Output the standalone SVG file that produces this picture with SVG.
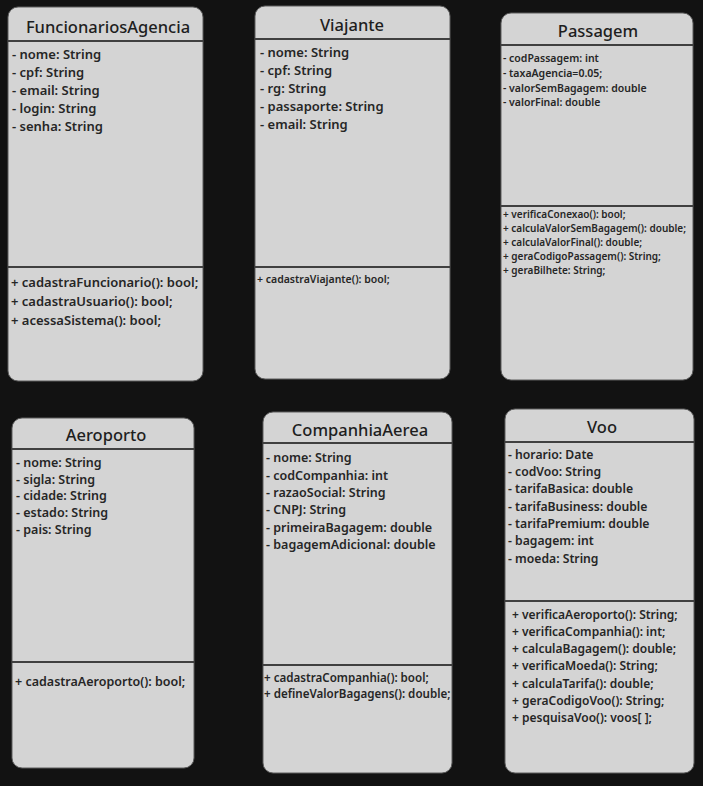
<svg xmlns="http://www.w3.org/2000/svg" width="703" height="786" viewBox="0 0 703 786">
<style>
.box{fill:#d4d4d4;stroke:#5c5c5c;stroke-width:1}
.sep{stroke:#404040;stroke-width:2}
.title{font-family:"Noto Sans",Lato,sans-serif;font-size:16.5px;fill:#1e1e1e;text-anchor:middle;font-weight:500}
.t{font-family:"Noto Sans",Lato,sans-serif;font-weight:600;fill:#262626}
.s13{font-size:13px}
.s12{font-size:12.5px}
.v12{font-size:12.2px}
.v11{font-size:12px}
.s10{font-size:10.5px}
.p10{font-size:10px}
.s11{font-size:10.5px}
.c11{font-size:11.6px}
</style>
<rect width="703" height="786" fill="#121212"/>
<g id="FuncionariosAgencia">
<rect class="box" x="8" y="7" width="195" height="374" rx="10"/>
<line class="sep" x1="8" y1="41" x2="203" y2="41"/>
<line class="sep" x1="8" y1="267" x2="203" y2="267"/>
<text class="title" x="108" y="33">FuncionariosAgencia</text>
<text class="t s13" x="12" y="59">- nome: String</text>
<text class="t s13" x="12" y="77">- cpf: String</text>
<text class="t s13" x="12" y="95">- email: String</text>
<text class="t s13" x="12" y="113">- login: String</text>
<text class="t s13" x="12" y="131">- senha: String</text>
<text class="t s13" x="11" y="287">+ cadastraFuncionario(): bool;</text>
<text class="t s13" x="11" y="306">+ cadastraUsuario(): bool;</text>
<text class="t s13" x="11" y="325">+ acessaSistema(): bool;</text>
</g>
<g id="Viajante">
<rect class="box" x="255" y="6" width="195" height="373" rx="10"/>
<line class="sep" x1="255" y1="39" x2="450" y2="39"/>
<line class="sep" x1="255" y1="267" x2="450" y2="267"/>
<text class="title" x="352" y="31">Viajante</text>
<text class="t s13" x="260" y="57">- nome: String</text>
<text class="t s13" x="260" y="75">- cpf: String</text>
<text class="t s13" x="260" y="93">- rg: String</text>
<text class="t s13" x="260" y="111">- passaporte: String</text>
<text class="t s13" x="260" y="129">- email: String</text>
<text class="t s11" x="257" y="283">+ cadastraViajante(): bool;</text>
</g>
<g id="Passagem">
<rect class="box" x="501" y="13" width="192" height="367" rx="10"/>
<line class="sep" x1="501" y1="45" x2="693" y2="45"/>
<line class="sep" x1="501" y1="206" x2="693" y2="206"/>
<text class="title" x="598" y="37">Passagem</text>
<text class="t s10" x="503" y="62">- codPassagem: int</text>
<text class="t s10" x="503" y="77">- taxaAgencia=0.05;</text>
<text class="t s10" x="503" y="92">- valorSemBagagem: double</text>
<text class="t s10" x="503" y="106">- valorFinal: double</text>
<text class="t p10" x="503" y="218">+ verificaConexao(): bool;</text>
<text class="t p10" x="503" y="232">+ calculaValorSemBagagem(): double;</text>
<text class="t p10" x="503" y="246">+ calculaValorFinal(): double;</text>
<text class="t p10" x="503" y="260">+ geraCodigoPassagem(): String;</text>
<text class="t p10" x="503" y="274">+ geraBilhete: String;</text>
</g>
<g id="Aeroporto">
<rect class="box" x="12" y="418" width="182" height="350" rx="10"/>
<line class="sep" x1="12" y1="449" x2="194" y2="449"/>
<line class="sep" x1="12" y1="662" x2="194" y2="662"/>
<text class="title" x="106" y="441">Aeroporto</text>
<text class="t s12" x="16" y="467">- nome: String</text>
<text class="t s12" x="16" y="484">- sigla: String</text>
<text class="t s12" x="16" y="500">- cidade: String</text>
<text class="t s12" x="16" y="517">- estado: String</text>
<text class="t s12" x="16" y="534">- pais: String</text>
<text class="t s12" x="15" y="686">+ cadastraAeroporto(): bool;</text>
</g>
<g id="CompanhiaAerea">
<rect class="box" x="263" y="412" width="189" height="361" rx="10"/>
<line class="sep" x1="263" y1="443" x2="452" y2="443"/>
<line class="sep" x1="263" y1="665" x2="452" y2="665"/>
<text class="title" x="360" y="436">CompanhiaAerea</text>
<text class="t s12" x="266" y="462">- nome: String</text>
<text class="t s12" x="266" y="480">- codCompanhia: int</text>
<text class="t s12" x="266" y="497">- razaoSocial: String</text>
<text class="t s12" x="266" y="514">- CNPJ: String</text>
<text class="t s12" x="266" y="532">- primeiraBagagem: double</text>
<text class="t s12" x="266" y="549">- bagagemAdicional: double</text>
<text class="t c11" x="264" y="682">+ cadastraCompanhia(): bool;</text>
<text class="t c11" x="264" y="698">+ defineValorBagagens(): double;</text>
</g>
<g id="Voo">
<rect class="box" x="505" y="409" width="189" height="364" rx="10"/>
<line class="sep" x1="505" y1="442" x2="694" y2="442"/>
<line class="sep" x1="505" y1="601" x2="694" y2="601"/>
<text class="title" x="602" y="433">Voo</text>
<text class="t v12" x="508" y="459">- horario: Date</text>
<text class="t v12" x="508" y="476">- codVoo: String</text>
<text class="t v12" x="508" y="493">- tarifaBasica: double</text>
<text class="t v12" x="508" y="511">- tarifaBusiness: double</text>
<text class="t v12" x="508" y="528">- tarifaPremium: double</text>
<text class="t v12" x="508" y="545">- bagagem: int</text>
<text class="t v12" x="508" y="563">- moeda: String</text>
<text class="t v11" x="512" y="619">+ verificaAeroporto(): String;</text>
<text class="t v11" x="512" y="636">+ verificaCompanhia(): int;</text>
<text class="t v11" x="512" y="653">+ calculaBagagem(): double;</text>
<text class="t v11" x="512" y="670">+ verificaMoeda(): String;</text>
<text class="t v11" x="512" y="688">+ calculaTarifa(): double;</text>
<text class="t v11" x="512" y="705">+ geraCodigoVoo(): String;</text>
<text class="t v11" x="512" y="722">+ pesquisaVoo(): voos[ ];</text>
</g>
<g id="connectors"/>
</svg>
